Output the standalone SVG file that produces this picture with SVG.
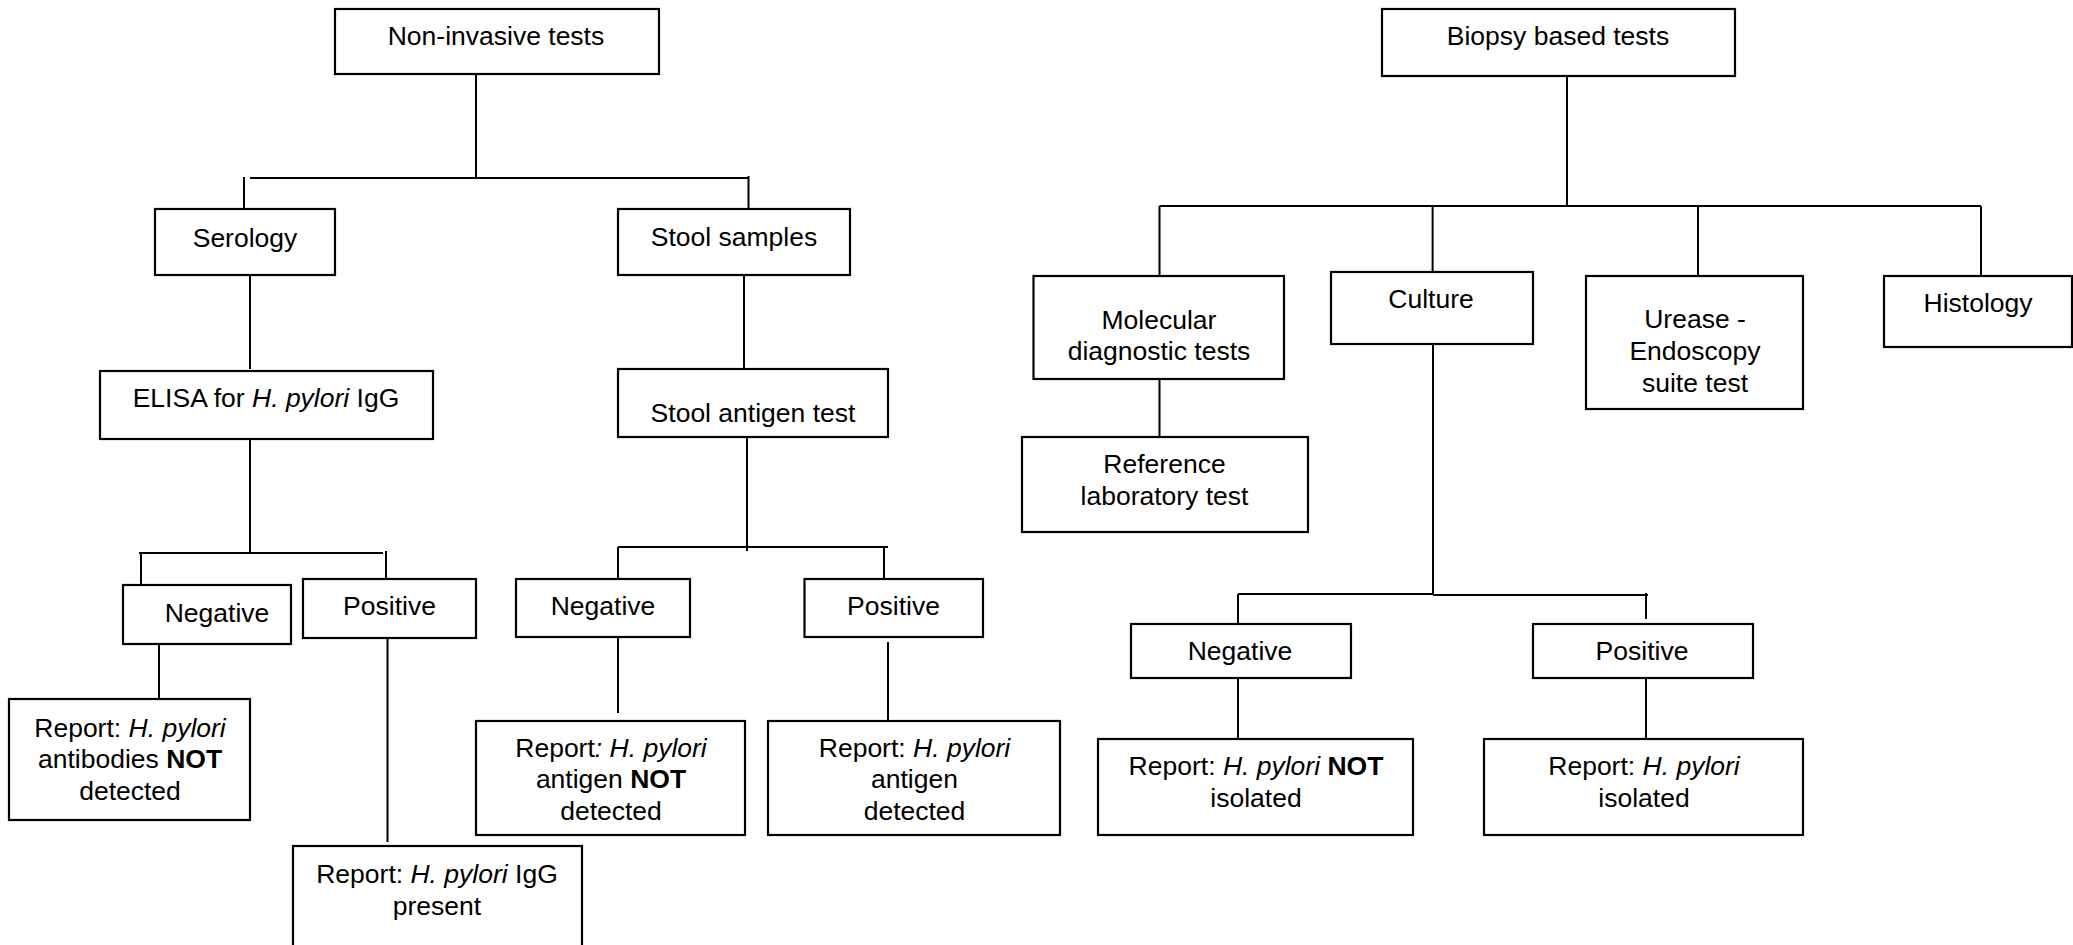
<svg xmlns="http://www.w3.org/2000/svg" width="2073" height="945" viewBox="0 0 2073 945">
<style>
.box{fill:#fff;stroke:#000;stroke-width:2.2}
.t{font-family:"Liberation Sans",Arial,sans-serif;font-size:26.5px;fill:#000;text-anchor:middle}
.i{font-style:italic}
.b{font-weight:bold}
.c{fill:none;stroke:#000;stroke-width:2}
</style>
<rect width="2073" height="945" fill="#fff"/>
<g id="connectors">
<path class="c" d="M476 74V178M250 178H748M244 177V209M748.5 176V209M250 275V369M744 275V369"/>
<path class="c" d="M250 437V553M139 553H383M141 553V585M386 551V584M159 644V699M387.5 638V842"/>
<path class="c" d="M747 437V551M618 547H888M618 547V579M884 547V579M618 637V713M888 642V721"/>
<path class="c" d="M1567 76V206M1159.5 206H1981M1159.5 206V276M1432.6 206V272M1698 206V276M1981 206V276M1159.5 379V437"/>
<path class="c" d="M1433 344V594M1238 594H1433M1433 595H1648M1238 594V624M1646 593V619M1238 675V739M1646 678V739"/>
</g>
<g id="nonInvasive"><rect class="box" x="335" y="9" width="324" height="65"/><text class="t" x="496" y="45">Non-invasive tests</text></g>
<g id="serology"><rect class="box" x="155" y="209" width="180" height="66"/><text class="t" x="245" y="247">Serology</text></g>
<g id="stoolSamples"><rect class="box" x="618" y="209" width="232" height="66"/><text class="t" x="734" y="246">Stool samples</text></g>
<g id="elisa"><rect class="box" x="100" y="371" width="333" height="68"/><text class="t" x="266" y="407">ELISA for <tspan class="i">H. pylori</tspan> IgG</text></g>
<g id="stoolAntigen"><rect class="box" x="618" y="369" width="270" height="68"/><text class="t" x="753" y="422">Stool antigen test</text></g>
<g id="serNegative"><rect class="box" x="123" y="585" width="168" height="59"/><text class="t" x="217" y="622">Negative</text></g>
<g id="serPositive"><rect class="box" x="303" y="579" width="173" height="59"/><text class="t" x="389.5" y="615">Positive</text></g>
<g id="stoolNegative"><rect class="box" x="516" y="579" width="174" height="58"/><text class="t" x="603" y="615">Negative</text></g>
<g id="stoolPositive"><rect class="box" x="804.5" y="579" width="178.5" height="58"/><text class="t" x="893.5" y="615">Positive</text></g>
<g id="reportAbNot"><rect class="box" x="9" y="699" width="241" height="121"/>
<text class="t" x="130" y="737">Report: <tspan class="i">H. pylori</tspan></text>
<text class="t" x="130" y="768">antibodies <tspan class="b">NOT</tspan></text>
<text class="t" x="130" y="800">detected</text></g>
<g id="reportIgG"><rect class="box" x="293" y="846" width="289" height="110"/>
<text class="t" x="437" y="883">Report: <tspan class="i">H. pylori</tspan> IgG</text>
<text class="t" x="437" y="915">present</text></g>
<g id="reportAgNot"><rect class="box" x="476" y="721" width="269" height="114"/>
<text class="t" x="611" y="757">Report<tspan class="i">: H. pylori</tspan></text>
<text class="t" x="611" y="788">antigen <tspan class="b">NOT</tspan></text>
<text class="t" x="611" y="820">detected</text></g>
<g id="reportAg"><rect class="box" x="768" y="721" width="292" height="114"/>
<text class="t" x="914.5" y="757">Report: <tspan class="i">H. pylori</tspan></text>
<text class="t" x="914.5" y="788">antigen</text>
<text class="t" x="914.5" y="820">detected</text></g>
<g id="biopsy"><rect class="box" x="1382" y="9" width="353" height="67"/><text class="t" x="1558" y="45">Biopsy based tests</text></g>
<g id="molecular"><rect class="box" x="1033.5" y="276" width="250.5" height="103"/>
<text class="t" x="1159" y="329">Molecular</text>
<text class="t" x="1159" y="360">diagnostic tests</text></g>
<g id="culture"><rect class="box" x="1331" y="272" width="202" height="72"/><text class="t" x="1431" y="308">Culture</text></g>
<g id="urease"><rect class="box" x="1586" y="276" width="217" height="133"/>
<text class="t" x="1695" y="328">Urease -</text>
<text class="t" x="1695" y="360">Endoscopy</text>
<text class="t" x="1695" y="392">suite test</text></g>
<g id="histology"><rect class="box" x="1884" y="276" width="188" height="71"/><text class="t" x="1978" y="312">Histology</text></g>
<g id="reference"><rect class="box" x="1022" y="437" width="286" height="95"/>
<text class="t" x="1164.5" y="473">Reference</text>
<text class="t" x="1164.5" y="505">laboratory test</text></g>
<g id="cultNegative"><rect class="box" x="1131" y="624" width="220" height="54"/><text class="t" x="1240" y="660">Negative</text></g>
<g id="cultPositive"><rect class="box" x="1533" y="624" width="220" height="54"/><text class="t" x="1642" y="660">Positive</text></g>
<g id="reportNotIsolated"><rect class="box" x="1098" y="739" width="315" height="96"/>
<text class="t" x="1256" y="775">Report: <tspan class="i">H. pylori</tspan> <tspan class="b">NOT</tspan></text>
<text class="t" x="1256" y="807">isolated</text></g>
<g id="reportIsolated"><rect class="box" x="1484" y="739" width="319" height="96"/>
<text class="t" x="1644" y="775">Report: <tspan class="i">H. pylori</tspan></text>
<text class="t" x="1644" y="807">isolated</text></g>
</svg>
